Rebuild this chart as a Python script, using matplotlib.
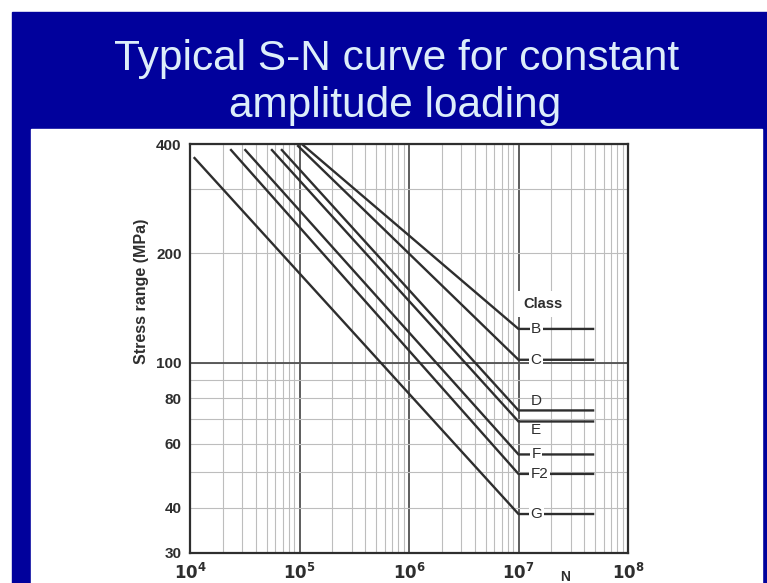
import matplotlib
matplotlib.use('Agg')
import matplotlib.pyplot as plt
from matplotlib.patches import Rectangle
from matplotlib.ticker import FixedLocator, NullFormatter

# slide colours
SLIDE_BLUE = "#01019C"
TITLE_COL = "#DDEEFA"
INK = "#2E2E2E"
GRID_LIGHT = "#BDBDBD"
GRID_DARK = "#505050"

# S-N data
classes = ["B", "C", "D", "E", "F", "F2", "G"]
start_N = [1.07e5, 9.7e4, 6.9e4, 5.6e4, 3.2e4, 2.37e4, 1.1e4]
start_S = [398, 395, 385, 385, 385, 385, 366]
knee_N = 1e7
knee_S = [124, 102, 74, 69, 56, 49.5, 38.4]
end_N = 4.8e7

# where each class letter sits (stress) and whether it breaks the line
label_S = [124, 102, 78.5, 65.5, 56, 49.5, 38.4]
label_N = [1.45e7, 1.45e7, 1.45e7, 1.45e7, 1.45e7, 1.55e7, 1.45e7]
label_on_line = [True, True, False, False, True, True, True]

ytick_vals = [30, 40, 60, 80, 100, 200, 400]
ygrid_vals = [30, 40, 50, 60, 70, 80, 90, 100, 200, 300, 400]
xtick_vals = [1e4, 1e5, 1e6, 1e7, 1e8]
xtick_labels = [r"$\mathbf{10^{4}}$", r"$\mathbf{10^{5}}$", r"$\mathbf{10^{6}}$",
                r"$\mathbf{10^{7}}$", r"$\mathbf{10^{8}}$"]

W, H = 767, 583
fig = plt.figure(figsize=(W / 100, H / 100), dpi=100)
fig.patch.set_facecolor("white")

# blue slide + white picture panel (behind the axes)
fig.add_artist(Rectangle((12 / W, 0), (W - 12) / W, (H - 12) / H,
                         transform=fig.transFigure, color=SLIDE_BLUE, zorder=-2))
fig.add_artist(Rectangle((31 / W, 0), 731 / W, (H - 129) / H,
                         transform=fig.transFigure, color="white", zorder=-1))

title_font = ["Liberation Sans", "DejaVu Sans"]
fig.text(397 / W, 1 - 70 / H, "Typical S-N curve for constant", ha="center",
         va="baseline", fontsize=30.5, color=TITLE_COL, family=title_font)
fig.text(395 / W, 1 - 117 / H, "amplitude loading", ha="center",
         va="baseline", fontsize=30.5, color=TITLE_COL, family=title_font)

ax = fig.add_axes([190 / W, 1 - 553 / H, (628 - 190) / W, (553 - 144) / H])
ax.set_facecolor("white")
ax.set_xscale("log")
ax.set_yscale("log")
ax.set_xlim(1e4, 1e8)
ax.set_ylim(30, 400)

# grid
ax.xaxis.set_major_locator(FixedLocator(xtick_vals))
ax.xaxis.set_minor_locator(FixedLocator(
    [m * 10.0 ** e for e in range(4, 8) for m in range(2, 10)]))
ax.xaxis.set_minor_formatter(NullFormatter())
ax.set_xticks(xtick_vals)
ax.set_xticklabels(xtick_labels)
ax.set_yticks(ytick_vals)
ax.set_yticklabels([str(v) for v in ytick_vals])
ax.yaxis.set_minor_locator(FixedLocator(ygrid_vals))
ax.yaxis.set_minor_formatter(NullFormatter())
ax.grid(axis="x", which="minor", color=GRID_LIGHT, lw=0.8)
ax.grid(axis="x", which="major", color=GRID_DARK, lw=1.3)
ax.grid(axis="y", which="both", color=GRID_LIGHT, lw=0.8)
ax.axhline(100, color=GRID_DARK, lw=1.3, zorder=1)
ax.set_axisbelow(True)

ax.tick_params(which="both", length=0)
ax.tick_params(axis="y", pad=6, labelsize=11, labelcolor=INK)
ax.tick_params(axis="x", pad=7, labelsize=12, labelcolor=INK)
for lab in ax.get_yticklabels():
    lab.set_fontweight("bold")
    lab.set_family("Liberation Sans")
for sp in ax.spines.values():
    sp.set_color(INK)
    sp.set_linewidth(1.6)

ax.set_ylabel("Stress range (MPa)", fontsize=11.5, fontweight="bold",
              color=INK, family="Liberation Sans")
ax.yaxis.set_label_coords(-0.093, 0.64)

# the S-N lines
for i, cls in enumerate(classes):
    ax.plot([start_N[i], knee_N, end_N], [start_S[i], knee_S[i], knee_S[i]],
            color=INK, lw=1.7, zorder=3, solid_joinstyle="miter")
    if label_on_line[i]:
        box = dict(boxstyle="square,pad=0.1", fc="white", ec="none")
    else:
        box = None
    ax.text(label_N[i], label_S[i], cls, ha="center", va="center", fontsize=11,
            color=INK, family="Liberation Sans", zorder=4, bbox=box)

ax.text(1.1e7, 145, "Class", ha="left", va="center", fontsize=10.5,
        fontweight="bold", color=INK, family="Liberation Sans", zorder=4,
        bbox=dict(boxstyle="square,pad=0.4", fc="white", ec="none"))

fig.text(565 / W, 1 - 570 / H, "N", ha="center", va="top", fontsize=10,
         fontweight="bold", color=INK, family="Liberation Sans")

plt.savefig("out.png", dpi=100, facecolor="white")
plt.close()
